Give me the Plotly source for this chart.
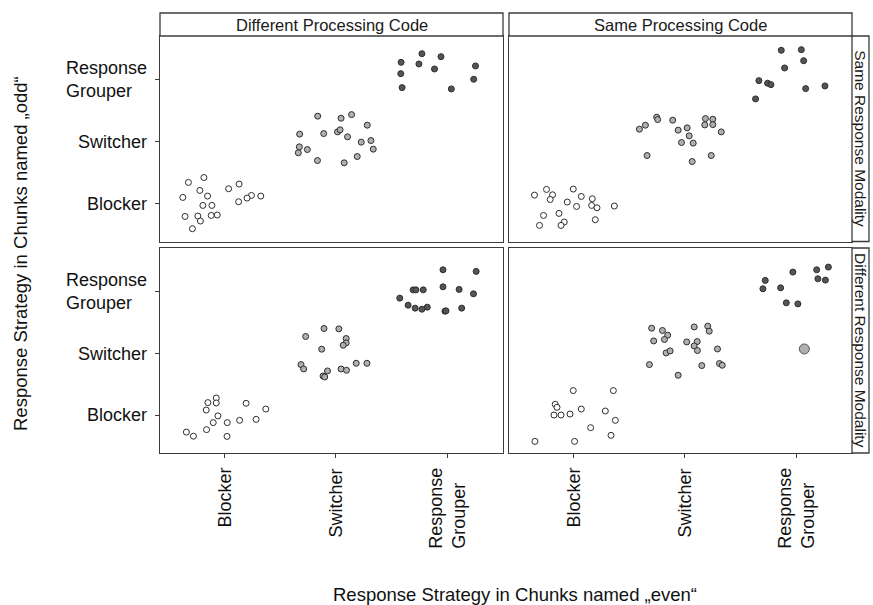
import plotly.graph_objects as go

# ---------------- data ----------------
categories = ["Blocker", "Switcher", "Response<br>Grouper"]
col_labels = ["Different Processing Code", "Same Processing Code"]
row_labels = ["Same Response Modality", "Different Response Modality"]
x_title = "Response Strategy in Chunks named „even“"
y_title = "Response Strategy in Chunks named „odd“"

# top-left: Different Processing Code / Same Response Modality
tl_x = [2.585, 2.772, 2.943, 2.745, 3.253, 2.582, 2.885, 3.237, 2.594, 3.036,
        1.836, 2.046, 2.140, 2.281, 1.674, 1.890, 2.014, 2.037, 2.104, 2.227,
        2.314, 1.671, 1.743, 1.662, 2.335, 1.834, 2.074, 2.191,
        0.814, 0.675, 1.130, 1.036, 0.778, 0.847, 0.625, 1.241, 1.202, 1.325,
        1.126, 0.805, 0.886, 0.645, 0.760, 0.880, 0.934, 0.783, 0.711]
tl_y = [3.285, 3.424, 3.376, 3.258, 3.226, 3.102, 3.177, 3.011, 2.876, 2.855,
        2.415, 2.382, 2.440, 2.269, 2.124, 2.134, 2.161, 2.194, 2.081, 1.995,
        2.021, 1.919, 1.876, 1.823, 1.882, 1.698, 1.661, 1.763,
        1.424, 1.344, 1.318, 1.242, 1.215, 1.124, 1.102, 1.134, 1.092, 1.124,
        1.032, 0.973, 0.973, 0.795, 0.802, 0.811, 0.818, 0.721, 0.597]

# top-right: Same Processing Code / Same Response Modality
tr_x = [2.865, 3.045, 3.066, 2.895, 2.664, 2.742, 2.772, 3.084, 3.257, 2.634,
        1.746, 1.755, 1.890, 2.184, 2.250, 1.645, 1.591, 2.178, 2.250, 1.939,
        2.020, 2.326, 2.038, 1.969, 2.074, 1.660, 2.236, 2.065,
        0.757, 0.997, 0.649, 0.811, 0.790, 1.069, 1.168, 0.943, 1.027, 1.162,
        1.210, 1.366, 0.869, 0.730, 0.916, 0.887, 0.694, 1.195]
tr_y = [3.479, 3.489, 3.311, 3.194, 2.989, 2.947, 2.924, 2.860, 2.903, 2.694,
        2.398, 2.360, 2.350, 2.376, 2.366, 2.269, 2.205, 2.274, 2.279, 2.189,
        2.226, 2.161, 2.097, 1.989, 1.979, 1.779, 1.779, 1.682,
        1.231, 1.237, 1.140, 1.145, 1.069, 1.118, 1.081, 1.027, 0.956, 0.973,
        0.935, 0.963, 0.844, 0.811, 0.705, 0.650, 0.650, 0.742]

# bottom-left: Different Processing Code / Different Response Modality
bl_x = [2.961, 3.259, 2.693, 2.718, 2.784, 2.961, 3.106, 3.235, 2.573, 2.648,
        2.711, 2.772, 2.820, 2.979, 2.988, 3.129,
        1.893, 2.026, 1.728, 2.092, 2.092, 2.065, 1.872, 1.686, 1.710, 1.924,
        1.884, 1.899, 2.046, 2.095, 2.182, 2.278,
        0.925, 0.850, 0.925, 0.835, 1.193, 1.370, 0.940, 0.898, 1.024, 1.135,
        1.283, 0.838, 0.657, 0.720, 1.022]
bl_y = [3.357, 3.331, 3.032, 3.032, 3.032, 3.081, 3.039, 2.968, 2.898, 2.784,
        2.736, 2.719, 2.752, 2.687, 2.692, 2.736,
        2.406, 2.400, 2.277, 2.244, 2.173, 2.135, 2.071, 1.822, 1.751, 1.719,
        1.637, 1.621, 1.751, 1.730, 1.843, 1.843,
        1.281, 1.206, 1.200, 1.086, 1.195, 1.102, 0.991, 0.882, 0.882, 0.919,
        0.935, 0.768, 0.729, 0.662, 0.659]

# bottom-right: Same Processing Code / Different Response Modality
br_x = [2.969, 3.183, 3.288, 2.721, 2.700, 2.859, 3.194, 3.261, 2.910, 3.014,
        1.701, 1.798, 1.845, 1.816, 1.719, 2.083, 2.205, 2.218, 2.016, 2.110,
        2.083, 2.112, 1.831, 1.867, 2.292, 1.681, 2.151, 2.310, 2.335, 1.939,
        0.997, 1.357, 0.835, 0.851, 0.824, 0.887, 0.968, 1.069, 1.285, 1.375,
        1.153, 1.336, 0.653, 1.009]
br_y = [3.320, 3.357, 3.401, 3.185, 3.049, 3.065, 3.211, 3.190, 2.822, 2.805,
        2.411, 2.374, 2.298, 2.228, 2.205, 2.432, 2.444, 2.363, 2.189, 2.195,
        2.124, 2.049, 2.011, 2.043, 2.075, 1.822, 1.806, 1.839, 1.811, 1.649,
        1.401, 1.401, 1.178, 1.130, 1.005, 1.005, 1.021, 1.102, 1.070, 0.919,
        0.800, 0.676, 0.578, 0.578]
# one enlarged (overlapping) observation in the bottom-right panel
br_big_x = [3.072]
br_big_y = [2.075]

# ---------------- styling ----------------
FONT = "Liberation Sans, Arial, sans-serif"
W, H = 873, 605
fills = {1: "#ffffff", 2: "#b0b0b0", 3: "#555555"}
edge = "#2e2e2e"
frame = "#3c3c3c"

def px_x(p):
    return p / W

def px_y(p):
    return 1 - p / H

xdom = [[px_x(160), px_x(503)], [px_x(509), px_x(852)]]
ydom = [[px_y(241.5), px_y(36)], [px_y(453), px_y(248)]]
xr = [0.42, 3.5]
yr = [0.39, 3.71]

panels = [(tl_x, tl_y, 0, 0), (tr_x, tr_y, 0, 1), (bl_x, bl_y, 1, 0), (br_x, br_y, 1, 1)]

fig = go.Figure()
for i, (xs, ys, r, c) in enumerate(panels):
    k = "" if i == 0 else str(i + 1)
    colors = [fills[min(3, max(1, round(v)))] for v in ys]
    fig.add_trace(go.Scatter(
        x=xs, y=ys, mode="markers", xaxis="x" + k, yaxis="y" + k,
        marker=dict(size=6, color=colors, line=dict(color=edge, width=1)),
        showlegend=False, hoverinfo="skip"))
    if i == 3:
        fig.add_trace(go.Scatter(
            x=br_big_x, y=br_big_y, mode="markers", xaxis="x4", yaxis="y4",
            marker=dict(size=10, color=[fills[round(v)] for v in br_big_y],
                        line=dict(color="#555555", width=1)),
            showlegend=False, hoverinfo="skip"))
    xa = dict(domain=xdom[c], range=xr, anchor="y" + k, showgrid=False, zeroline=False,
              showline=True, mirror=True, linecolor=frame, linewidth=1.3,
              tickvals=[1, 2, 3], showticklabels=False,
              ticks="outside" if r == 1 else "", ticklen=4, tickcolor=frame, tickwidth=1)
    ya = dict(domain=ydom[r], range=yr, anchor="x" + k, showgrid=False, zeroline=False,
              showline=True, mirror=True, linecolor=frame, linewidth=1.3,
              tickvals=[1, 2, 3], showticklabels=False,
              ticks="outside" if c == 0 else "", ticklen=4, tickcolor=frame, tickwidth=1)
    fig.layout["xaxis" + k] = xa
    fig.layout["yaxis" + k] = ya

shapes = []
annotations = []
# top strips
for c, lab in enumerate(col_labels):
    shapes.append(dict(type="rect", xref="paper", yref="paper",
                       x0=xdom[c][0], x1=xdom[c][1], y0=px_y(36), y1=px_y(13),
                       fillcolor="white", line=dict(color=frame, width=1.3)))
    annotations.append(dict(xref="paper", yref="paper", x=(xdom[c][0] + xdom[c][1]) / 2,
                            y=(px_y(36) + px_y(13)) / 2, text=lab, showarrow=False,
                            xanchor="center", yanchor="middle",
                            font=dict(family=FONT, size=16.5, color="#1a1a1a")))
# right strips
for r, lab in enumerate(row_labels):
    shapes.append(dict(type="rect", xref="paper", yref="paper",
                       x0=px_x(852), x1=px_x(869), y0=ydom[r][0], y1=ydom[r][1],
                       fillcolor="white", line=dict(color=frame, width=1.3)))
    annotations.append(dict(xref="paper", yref="paper", x=px_x(860.5),
                            y=(ydom[r][0] + ydom[r][1]) / 2, text=lab, showarrow=False,
                            textangle=90, xanchor="center", yanchor="middle",
                            font=dict(family=FONT, size=15.5, color="#1a1a1a")))

# y tick labels (left panels)
for r in range(2):
    yk = "y" if r == 0 else "y3"
    for v, lab in enumerate(categories, start=1):
        annotations.append(dict(xref="paper", yref=yk, x=px_x(149), y=v, text=lab,
                                showarrow=False, xanchor="right", yanchor="middle",
                                align="left",
                                font=dict(family=FONT, size=18, color="#111111")))
# x tick labels (bottom panels)
for c in range(2):
    xk = "x3" if c == 0 else "x4"
    for v, lab in enumerate(categories, start=1):
        annotations.append(dict(xref=xk, yref="paper", x=v, y=px_y(466), text=lab,
                                showarrow=False, textangle=-90, xanchor="center",
                                yanchor="top", align="left",
                                font=dict(family=FONT, size=18, color="#111111")))

# axis titles
annotations.append(dict(xref="paper", yref="paper", x=px_x(515), y=px_y(594),
                        text=x_title, showarrow=False, xanchor="center", yanchor="middle",
                        font=dict(family=FONT, size=18.5, color="#111111")))
annotations.append(dict(xref="paper", yref="paper", x=px_x(20), y=px_y(254),
                        text=y_title, showarrow=False, textangle=-90,
                        xanchor="center", yanchor="middle",
                        font=dict(family=FONT, size=18.5, color="#111111")))

fig.update_layout(width=W, height=H, margin=dict(l=0, r=0, t=0, b=0),
                  paper_bgcolor="white", plot_bgcolor="white",
                  shapes=shapes, annotations=annotations,
                  font=dict(family=FONT))

fig.write_html("out.html")
